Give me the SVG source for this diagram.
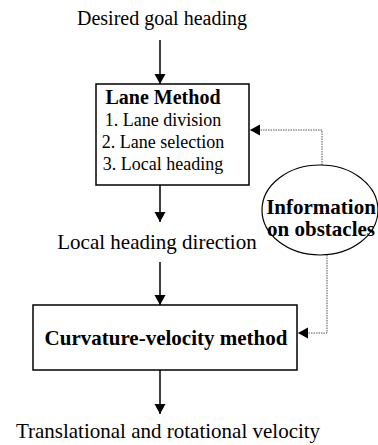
<svg xmlns="http://www.w3.org/2000/svg" width="378" height="445" viewBox="0 0 378 445">
  <defs>
    <marker id="arrow" viewBox="0 0 10 12" refX="10" refY="6" markerWidth="10" markerHeight="12" markerUnits="userSpaceOnUse" orient="auto">
      <path d="M0,0.5 L10,6 L0,11.5 Z" fill="#000"/>
    </marker>
  </defs>
  <style>
    text { font-family: "Liberation Serif", "Times New Roman", serif; fill: #000; }
    .label { font-size: 20px; text-anchor: middle; }
    .big { font-size: 21px; }
    .item { font-size: 18px; text-anchor: middle; }
    .bold { font-weight: bold; }
    .box { fill: #fff; stroke: #000; stroke-width: 1.5; }
    .flow { fill: none; stroke: #000; stroke-width: 1.5; marker-end: url(#arrow); }
    .info { fill: none; stroke: #555; stroke-width: 1; stroke-dasharray: 1.5 1; marker-end: url(#arrow); }
  </style>

  <rect width="378" height="445" fill="#fff"/>

  <g id="connectors">
    <line class="flow" x1="160" y1="40" x2="160" y2="84"/>
    <line class="flow" x1="160" y1="185" x2="160" y2="222"/>
    <line class="flow" x1="160" y1="262" x2="160" y2="305"/>
    <line class="flow" x1="160" y1="370" x2="160" y2="414"/>
    <polyline class="info" points="322,165 322,130 250,130"/>
    <polyline class="info" points="327,255 327,333 298,333"/>
  </g>

  <g id="goal">
    <text class="label" x="162" y="25">Desired goal heading</text>
  </g>

  <g id="lane-method">
    <rect class="box" x="96" y="84" width="153" height="101"/>
    <text class="label bold" x="163" y="104">Lane Method</text>
    <text class="item" x="163" y="126">1. Lane division</text>
    <text class="item" x="163" y="148">2. Lane selection</text>
    <text class="item" x="163" y="170">3. Local heading</text>
  </g>

  <g id="local-heading">
    <text class="label big" x="157" y="249">Local heading direction</text>
  </g>

  <g id="obstacles">
    <ellipse cx="320" cy="210" rx="58" ry="45" fill="#fff" stroke="#000" stroke-width="1.2"/>
    <text class="label big bold" x="321" y="214">Information</text>
    <text class="label big bold" x="321" y="236">on obstacles</text>
  </g>

  <g id="curvature-velocity">
    <rect class="box" x="33" y="305" width="264" height="65"/>
    <text class="label big bold" x="166" y="345">Curvature-velocity method</text>
  </g>

  <g id="velocity">
    <text class="label big" x="168" y="438">Translational and rotational velocity</text>
  </g>
</svg>
